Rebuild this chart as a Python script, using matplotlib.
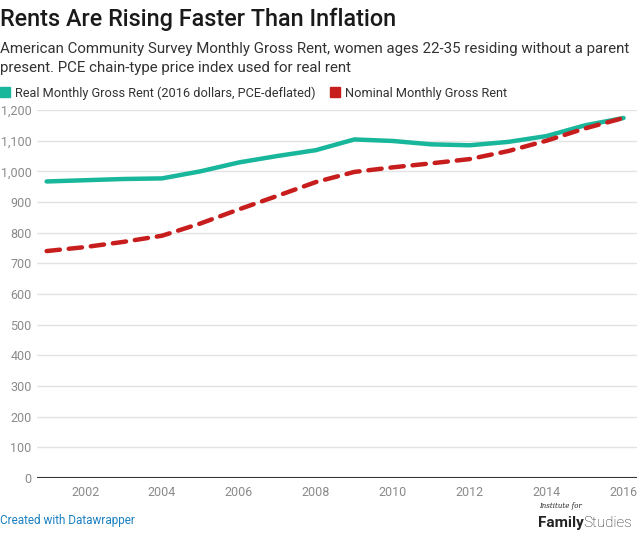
import matplotlib
matplotlib.use("Agg")
import matplotlib.pyplot as plt
from matplotlib.patches import Rectangle

plt.rcParams['font.family'] = ['Roboto', 'DejaVu Sans']

# data
years = [2001, 2002, 2003, 2004, 2005, 2006, 2007, 2008,
         2009, 2010, 2011, 2012, 2013, 2014, 2015, 2016]
real_rent = [967, 971, 975, 977, 1000, 1029, 1050, 1069,
             1104, 1099, 1088, 1085, 1096, 1115, 1150, 1174]
nominal_rent = [740, 753, 770, 790, 830, 876, 920, 965,
                998, 1013, 1026, 1040, 1066, 1100, 1140, 1174]
x_ticks = [2002, 2004, 2006, 2008, 2010, 2012, 2014, 2016]
y_ticks = [0, 100, 200, 300, 400, 500, 600, 700, 800, 900, 1000, 1100, 1200]

teal = '#18b69b'
red = '#c71e1d'
W, H = 640, 533

fig = plt.figure(figsize=(6.4, 5.33), dpi=100)
ax = fig.add_axes([37 / W, (H - 478) / H, 600 / W, 368 / H])

ax.plot(years, real_rent, color=teal, lw=3.2, solid_capstyle='round', zorder=3)
ax.plot(years, nominal_rent, color=red, lw=3.2, ls=(0, (3, 2)),
        dash_capstyle='round', zorder=3)

ax.set_xlim(2000.75, 2016.35)
ax.set_ylim(0, 1200)
ax.set_yticks(y_ticks)
ax.set_yticklabels([f'{v:,}' for v in y_ticks])
ax.set_xticks(x_ticks)
ax.grid(axis='y', color='#e3e3e3', lw=1)
ax.axhline(0, color='#333333', lw=1.5, zorder=4)
for s in ax.spines.values():
    s.set_visible(False)
ax.tick_params(axis='both', length=0, labelsize=9, colors='#8a8a8a')
ax.tick_params(axis='y', pad=4)
ax.tick_params(axis='x', pad=6)
for lab in ax.get_yticklabels():
    lab.set_horizontalalignment('right')

# title + subtitle
fig.text(0, 1 - 26 / H, 'Rents Are Rising Faster Than Inflation',
         fontsize=16.8, fontweight='medium', color='#1a1a1a')
fig.text(0, 1 - 53 / H, 'American Community Survey Monthly Gross Rent, women ages 22-35 residing without a parent',
         fontsize=10.8, color='#333333')
fig.text(0, 1 - 72 / H, 'present. PCE chain-type price index used for real rent',
         fontsize=10.8, color='#333333')

# legend
fig.patches.append(Rectangle((0, 1 - 97 / H), 10 / W, 10 / H,
                             transform=fig.transFigure, color=teal))
fig.text(15 / W, 1 - 97 / H, 'Real Monthly Gross Rent (2016 dollars, PCE-deflated)',
         fontsize=9.2, color='#333333')
fig.patches.append(Rectangle((330 / W, 1 - 97 / H), 10 / W, 10 / H,
                             transform=fig.transFigure, color=red))
fig.text(345 / W, 1 - 97 / H, 'Nominal Monthly Gross Rent',
         fontsize=9.2, color='#333333')

# footer
fig.text(0, 1 - 524 / H, 'Created with Datawrapper', fontsize=8.5, color='#1d81c2')
fig.text(539 / W, 1 - 508 / H, 'Institute for', fontsize=5, style='italic',
         family='DejaVu Serif', color='#222222')
fig.text(538 / W, 1 - 527 / H, 'Family', fontsize=11, fontweight='bold', color='#222222')
fig.text(583 / W, 1 - 527 / H, 'Studies', fontsize=11, fontweight='light', color='#222222')

fig.savefig('out.png', dpi=100)
